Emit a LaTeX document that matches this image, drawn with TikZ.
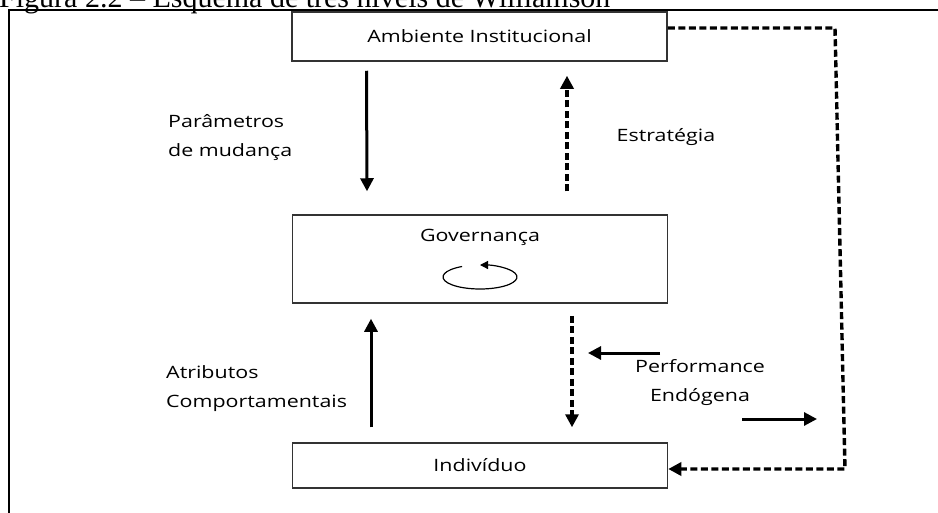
\documentclass[tikz,border=0pt]{standalone}
\usepackage{fontspec}
\usetikzlibrary{arrows.meta}
\newfontfamily\diagfont[FakeStretch=1.26]{Open Sans}
\newfontfamily\capfont{Liberation Serif}

\tikzset{
	nivel/.style={draw=black!80, line width=1.5pt, minimum width=375pt, inner sep=0pt},
	rotulo/.style={font=\diagfont\fontsize{17}{29}\selectfont, inner sep=0pt},
	seta/.style={draw=black, line width=3pt, -{Triangle[length=13pt,width=13pt]}},
	setatrac/.style={seta, line width=3.4pt, dash pattern=on 7pt off 3.5pt},
}

\begin{document}
\begin{tikzpicture}[x=1pt,y=-1pt]
	\useasboundingbox (0,0) rectangle (938,512);

	% Legenda cortada no topo
	\node[font=\capfont\fontsize{30}{33}\selectfont, anchor=base west, inner sep=0pt] (legenda) at (-1,7) {Figura 2.2 – Esquema de três níveis de Williamson};

	% Moldura
	\draw[line width=2pt] (9,10) rectangle (960,540);

	% Os tres niveis
	\node[nivel, minimum height=49pt] (amb) at (479.5,36.5) {};
	\node[rotulo] (ambtxt) at (479.5,36) {Ambiente Institucional};
	\node[nivel, minimum height=88pt] (gov) at (480,259) {};
	\node[rotulo] (govtxt) at (480,237) {Governança};
	\node[nivel, minimum height=45pt] (ind) at (480,465.5) {};
	\node[rotulo] (indtxt) at (480,465) {Indivíduo};

	% Rotulos das setas
	\node[rotulo, anchor=west, align=left] (par) at (168,138) {Parâmetros\\de mudança};
	\node[rotulo] (estr) at (666,137) {Estratégia};
	\node[rotulo, anchor=west, align=left] (atr) at (166,389) {Atributos\\Comportamentais};
	\node[rotulo, align=center] (perf) at (700,383) {Performance\\Endógena};

	% Setas verticais
	\draw[seta] ([xshift=-113pt,yshift=-9pt]amb.south) -- ([xshift=-113pt,yshift=23pt]gov.north);
	\draw[setatrac] ([xshift=87pt,yshift=23pt]gov.north) -- ([xshift=87.5pt,yshift=-14pt]amb.south);
	\draw[seta] ([xshift=-109pt,yshift=15pt]ind.north) -- ([xshift=-109pt,yshift=-15pt]gov.south);
	\draw[setatrac] ([xshift=92pt,yshift=-12pt]gov.south) -- ([xshift=92pt,yshift=15pt]ind.north);

	% Setas da performance
	\coordinate (pe1) at (660,353);
	\coordinate (pe2) at (588,353);
	\coordinate (pd1) at (742,419);
	\coordinate (pd2) at (817,419);
	\draw[seta] (pe1) -- (pe2);
	\draw[seta] (pd1) -- (pd2);

	% Retorno tracejado
	\coordinate (c1) at (835,28);
	\coordinate (c2) at (845,469);
	\draw[setatrac] ([yshift=8.5pt]amb.east) -- (c1) -- (c2) -- ([yshift=-3.5pt]ind.east);

	% Laco da governanca
	\draw[line width=1.2pt, -{Triangle[length=8pt,width=8pt]}] (480,277) ++(119:37pt and 12pt) arc[start angle=119, end angle=450, x radius=37pt, y radius=12pt];
\end{tikzpicture}
\end{document}
